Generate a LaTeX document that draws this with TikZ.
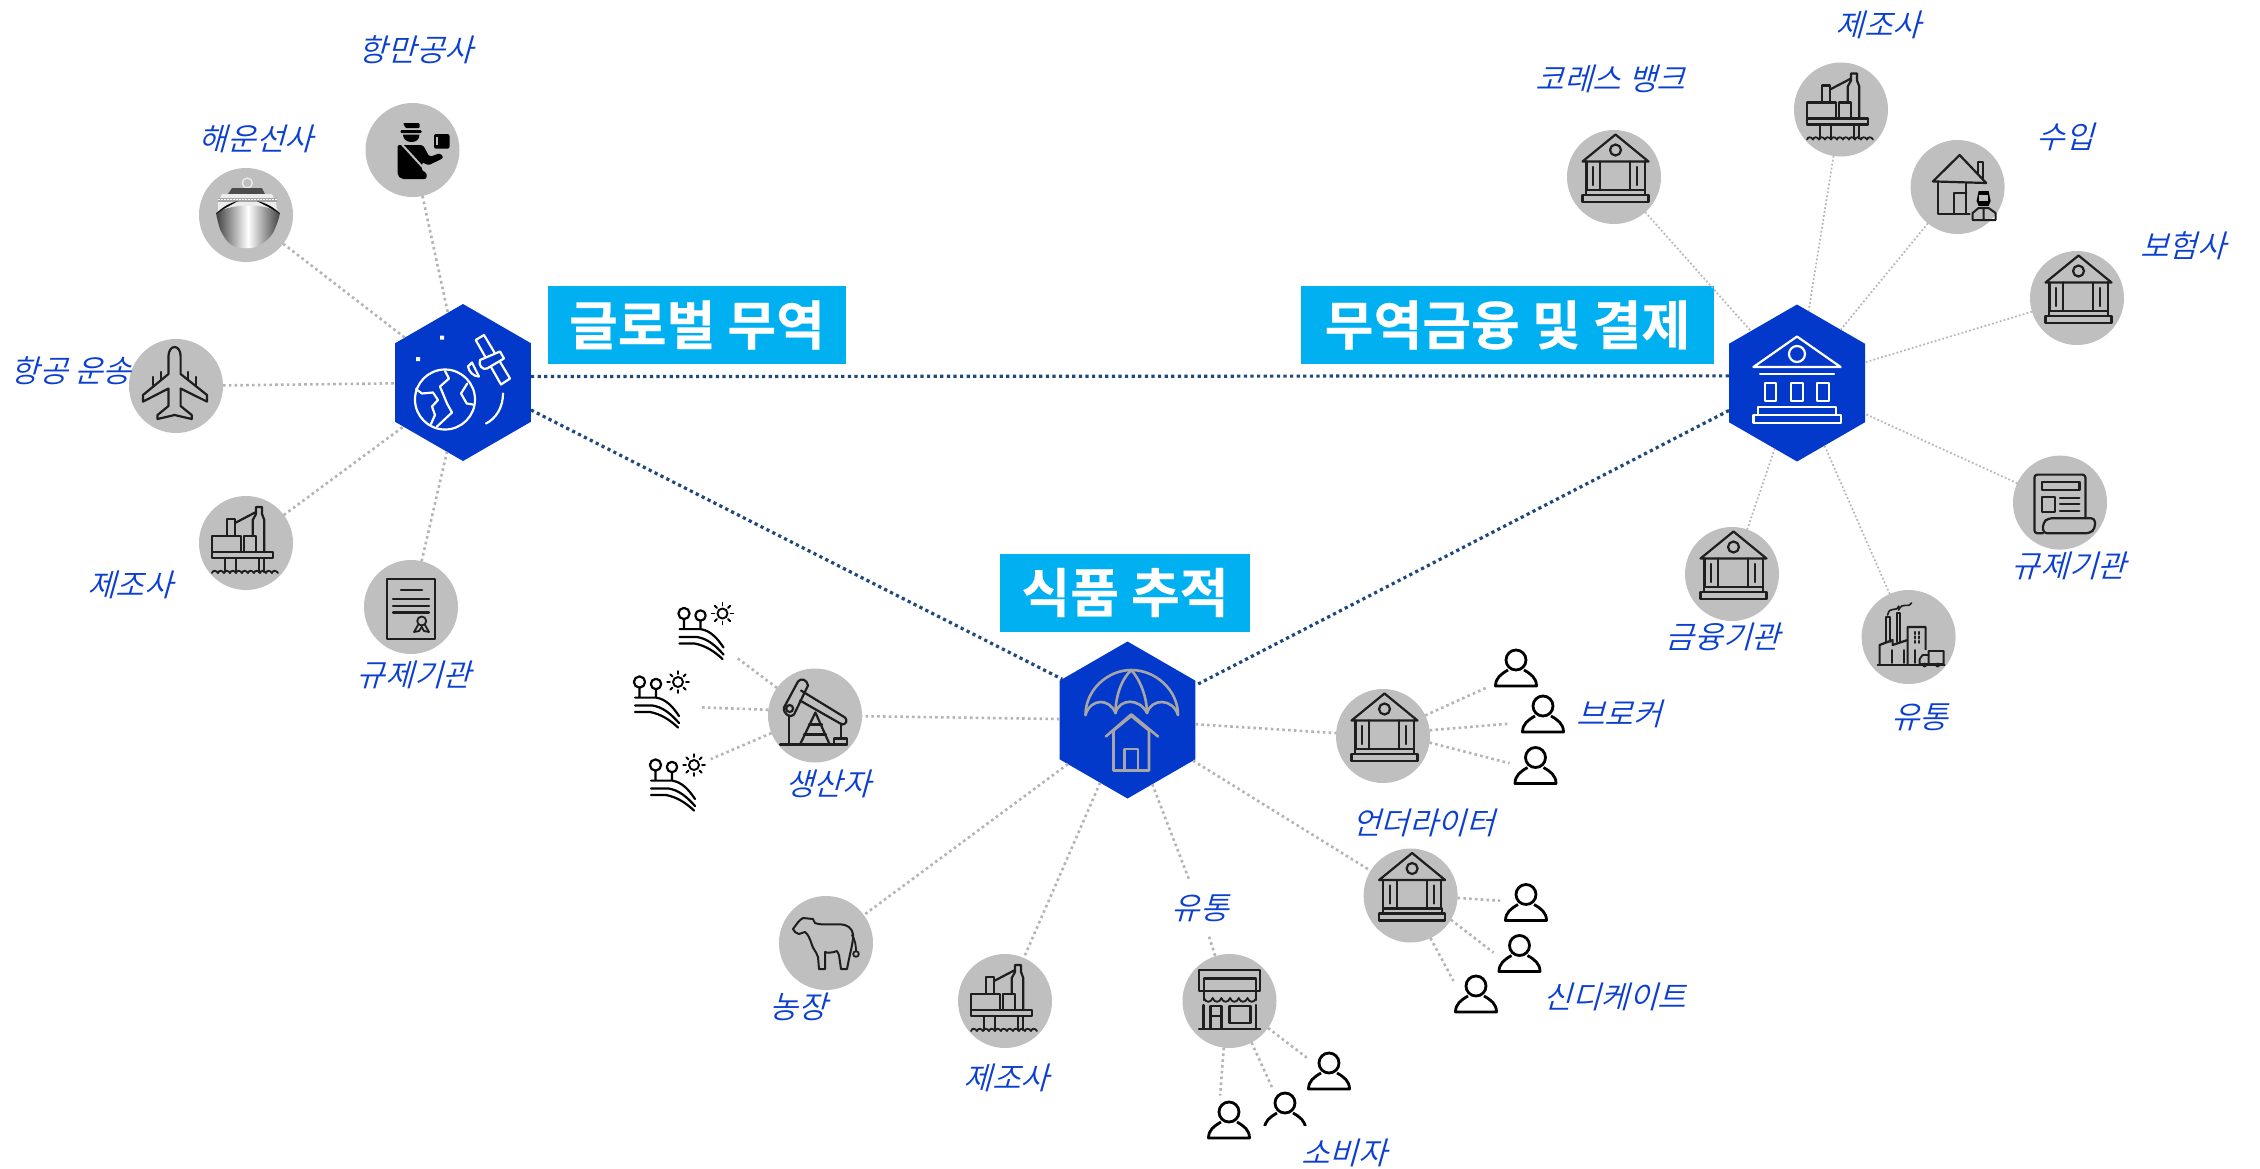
\documentclass[tikz,border=0pt]{standalone}
\usepackage{fontspec}
\usetikzlibrary{shapes.geometric}
\newfontfamily\lblfont[FakeSlant=0.28]{Noto Sans CJK KR DemiLight}
\newfontfamily\banfont[FakeBold=0.3]{Noto Sans CJK KR Bold}
\definecolor{hexblue}{HTML}{0339CA}
\definecolor{banblue}{HTML}{00B0F0}
\definecolor{disc}{HTML}{BFBFBF}
\definecolor{dotgray}{HTML}{B4B4B4}
\definecolor{navy}{HTML}{1F497D}
\definecolor{lblblue}{HTML}{0B3FD0}
\definecolor{icoline}{HTML}{1E1E1E}
\definecolor{hexgray}{HTML}{A6A6A6}
\tikzset{
  hexnode/.style={regular polygon,regular polygon sides=6,shape border rotate=30,minimum size=157pt,inner sep=0pt,outer sep=0pt,fill=hexblue},
  discnode/.style={circle,fill=disc,minimum size=94pt,inner sep=0pt,outer sep=0pt},
  personnode/.style={circle,minimum size=52pt,inner sep=0pt,outer sep=0pt},
  farmnode/.style={circle,minimum size=80pt,inner sep=0pt,outer sep=0pt},
  lbl/.style={font=\lblfont\fontsize{31}{36}\selectfont,text=lblblue,inner sep=0pt},
  ban/.style={fill=banblue,text=white,inner sep=0pt,font=\banfont\fontsize{53}{60}\selectfont},
  wideline/.style={draw=dotgray,line width=2.6pt,dash pattern=on 2.6pt off 3.2pt},
  thinline/.style={draw=dotgray,line width=1.7pt,dash pattern=on 1.7pt off 2.3pt},
  navyline/.style={draw=navy,line width=3.2pt,dash pattern=on 3.2pt off 3.4pt},
  ic/.style={draw=icoline,line width=2.2pt,line join=round,line cap=round},
  hw/.style={draw=white,line width=2.2pt,line join=round,line cap=round},
  hg/.style={draw=hexgray,line width=2.6pt,line join=round,line cap=round},
  bankicon/.pic={
    \draw[ic] (-31.5,-15.5) -- (1.5,-42.5) -- (34.5,-15.5) -- cycle;
    \draw[ic] (1.5,-27) circle[radius=5.5pt];
    \draw[ic] (-27.6,-15.5) -- (-27.6,13) (30.6,-15.5) -- (30.6,13) (-14,-15.5) -- (-14,13) (16,-15.5) -- (16,13) (-21,-10) -- (-21,8) (23,-10) -- (23,8);
    \draw[ic] (-28,13) rectangle (31,18);
    \draw[ic] (-31.5,18) rectangle (34.5,25);
  },
  rigicon/.pic={
    \draw[ic] (-34,-7) rectangle (-5,9);
    \draw[ic] (-34,9) rectangle (27,15);
    \draw[ic] (-19,-24) rectangle (-11,-7);
    \draw[ic] (-2,-7) rectangle (10,9);
    \draw[ic] (6.7,-7) -- (6.7,-23) -- (10,-29) -- (10,-36) -- (16,-36) -- (16,-29) -- (18.3,-23) -- (18.3,9);
    \draw[ic] (-11,-20) -- (10,-31);
    \draw[ic] (-21,15) -- (-21,29) (-10,15) -- (-10,29) (13,15) -- (13,29) (18,15) -- (18,29);
    \draw[ic,line width=1.8pt] (-34,30) \foreach \k in {0,...,10}{ .. controls (-33+6*\k,27) and (-30+6*\k,27) .. (-28+6*\k,30)};
  },
  planeicon/.pic={
    \draw[ic] (-1.4,-39) .. controls (2,-39) and (4.6,-35) .. (4.6,-30) -- (4.6,-12) -- (31,9) -- (31,15.6) -- (4.6,2.5) -- (4.6,20) -- (15.7,29) -- (15.7,33) -- (-1.4,29) -- (-18.5,33) -- (-18.5,29) -- (-7.5,20) -- (-7.5,2.5) -- (-33,15.6) -- (-33,9) -- (-7.5,-12) -- (-7.5,-30) .. controls (-7.5,-35) and (-4.8,-39) .. (-1.4,-39) -- cycle;
    \draw[ic] (-15,-14) -- (-15,-6) (-23,-9) -- (-23,-1) (12,-14) -- (12,-6) (20,-9) -- (20,-1);
  },
  shipicon/.pic={
    \draw[white!85!gray,line width=1.4pt] (1.3,-32) circle[radius=5pt];
    \fill[gray!60!black] (-18,-21) -- (-14,-27) -- (16,-27) -- (19,-21) -- cycle;
    \fill[gray!15] (-24,-21) -- (26,-21) -- (30,-13) -- (31,-4) -- (-28,-4) -- (-28,-13) -- cycle;
    \fill[gray!70] (-28,-17) rectangle (31,-13);
    \draw[white,line width=1pt,dash pattern=on 1.5pt off 1.5pt] (-28,-15.5) -- (31,-15.5);
    \shade[left color=black!75,right color=black!75,middle color=white] (-30,-2) .. controls (-28,8) and (-26,16) .. (-23,20) .. controls (-20,26) and (-16,29) .. (-12.6,31) .. controls (-6,34) and (7,34) .. (12,31) .. controls (18,28) and (23,24) .. (27,18) .. controls (30,12) and (33,4) .. (34,-2) .. controls (20,-12) and (-14,-12) .. (-30,-2) -- cycle;
    \fill[black] (-30,-1) .. controls (-24,-8) and (-16,-12) .. (-8,-14) .. controls (-15,-10) and (-23,-6) .. (-30,-1) -- cycle;
    \fill[black] (34,-1) .. controls (28,-8) and (20,-12) .. (11,-14) .. controls (18,-10) and (27,-6) .. (34,-1) -- cycle;
  },
  officericon/.pic={
    \fill[black,rounded corners=1pt] (-9.5,-27) -- (7,-27) -- (7,-22) -- (-7,-22) -- cycle;
    \fill[black,rounded corners=1pt] (-12,-20) rectangle (9,-17);
    \fill[black] (-9.5,-15.5) -- (7,-15.5) .. controls (7,-10) and (3,-8) .. (-1,-8) .. controls (-6,-8) and (-9.5,-11) .. (-9.5,-15.5) -- cycle;
    \fill[black,rounded corners=2pt] (-15,-5) -- (10.5,-5) -- (17,7) -- (28,3) -- (31,8) -- (15.5,15.5) -- (10,12) -- (9,21) -- (14,22) -- (14,29) -- (-11,29) -- (-15,25) -- cycle;
    \draw[disc,line width=2pt] (-11,-6) -- (10,17);
    \fill[black,rounded corners=2pt] (21.5,-16) rectangle (37,-1.3);
    \draw[disc,line width=1.4pt] (24.5,-13) -- (24.5,-5);
  },
  certicon/.pic={
    \draw[ic] (-24,-28) rectangle (24,32);
    \draw[ic] (-10,-17) -- (11,-17) (-18,-8) -- (18,-8) (-18,-1) -- (18,-1) (-18,5.5) -- (18,5.5);
    \draw[ic,line width=1.8pt] (10.7,14) circle[radius=4.5pt] (7,18) -- (3,25) -- (8,24) -- (10.7,20) -- (13,24) -- (18,25) -- (14,18);
  },
  houseicon/.pic={
    \draw[ic] (-24.7,-5.6) -- (2,-32) -- (28.6,-4) -- cycle;
    \draw[ic] (-20,-5.6) -- (-20,27) -- (12,27) (8.7,-4) -- (8.7,27) (-3.4,27) -- (-3.4,6) -- (8.7,6);
    \draw[ic] (20,-14) -- (20,-25) -- (25,-25) -- (25,-7);
    \fill[black] (19,14) -- (21,4) -- (31,4) -- (33,14) -- (31,19) -- (21,19) -- cycle;
    \fill[disc] (21.5,8) rectangle (30.5,14);
    \draw[ic,line width=2pt] (15,33) -- (15,26) -- (21,21) -- (31,21) -- (38,26) -- (38,33) -- cycle (26,21) -- (26,33);
  },
  newsicon/.pic={
    \draw[ic,rounded corners=3pt] (-17,30.7) -- (-25.6,30.7) -- (-25.6,-28) -- (25.4,-28) -- (25.4,15.6);
    \draw[ic] (-18.4,-21) rectangle (19.4,-13) (-18.4,-6) rectangle (-5,9.4);
    \draw[ic] (0,-4.7) -- (19.4,-4.7) (0,1.4) -- (19.4,1.4) (0,8) -- (19.4,8);
    \draw[ic,rounded corners=4pt] (-17,30.7) -- (30,30.7) -- (35,26) -- (35,15.6) -- (-12,15.6) -- (-17,20) -- cycle;
  },
  factoryicon/.pic={
    \draw[ic] (-31,28) -- (36,28);
    \draw[ic] (-29,28) -- (-29,8) -- (-16,3) -- (-16,8) -- (-1,3) -- (-1,28) (-1,3) -- (-1,-10) -- (17,-10) -- (17,13);
    \draw[ic,line width=1.8pt] (-23,5) -- (-23,-20) -- (-19,-20) -- (-19,5) (-12,5) -- (-12,-24) -- (-9,-24) -- (-9,5);
    \draw[ic,line width=1.6pt] (-21,-22) .. controls (-19,-32) and (-12,-24) .. (-10,-31) (-10,-27) .. controls (-6,-36) and (0,-28) .. (3,-34);
    \draw[ic,line width=1.8pt] (-17,13) -- (-17,26) (-5,13) -- (-5,26) (6.3,13) -- (6.3,26);
    \draw[ic,line width=2.2pt,dash pattern=on 2pt off 2.4pt] (6.5,-5) -- (6.5,7) (10.5,-5) -- (10.5,7);
    \fill[disc] (9,13) rectangle (36,27);
    \draw[ic,line width=1.8pt] (20,14) rectangle (35,27) (20,18) -- (14,18) -- (11,22) -- (11,27) -- (20,27);
    \fill[icoline] (16,28) circle[radius=2.4pt] (29,28) circle[radius=2.4pt];
  },
  pumpicon/.pic={
    \draw[ic] (-35,29) -- (32,29);
    \draw[ic] (-14,-25) -- (30,2) .. controls (33,5) and (31,9) .. (27,9) -- (-15,-15);
    \draw[ic] (-31,-8) -- (-17,-34) .. controls (-14,-38) and (-8,-36) .. (-7,-30) -- (-21,-1) .. controls (-24,3) and (-32,-1) .. (-31,-8) -- cycle;
    \draw[ic] (-25.4,-7) circle[radius=3.5pt];
    \draw[ic] (-26,0) -- (-26,29);
    \draw[ic] (-15,29) -- (0.4,-3) -- (14.7,29);
    \draw[ic] (-6,9) -- (7,9) (-11,19) -- (11,19);
    \draw[ic] (26,8) -- (26,23);
    \draw[ic] (19,23) rectangle (32,29);
  },
  cowicon/.pic={
    \draw[ic,line width=2pt] (-33,-14) .. controls (-30,-18) and (-27,-23) .. (-23,-25) -- (-13,-24) -- (-11,-20) .. controls (-4,-17) and (10,-20) .. (19,-18) .. controls (25,-16) and (28,-11) .. (27,-4) .. controls (26,4) and (24,10) .. (21,26) -- (15,26) -- (13,12) -- (11,8) .. controls (6,10) and (1,10) .. (-1,9) -- (-1,26) -- (-7,26) -- (-8,14) .. controls (-10,8) and (-13,6) .. (-14,2) .. controls (-16,-4) and (-18,-9) .. (-21,-11) -- (-27,-9) .. controls (-30,-10) and (-32,-11) .. (-33,-14) -- cycle;
    \draw[ic,line width=1.8pt] (26,-8) .. controls (29,-3) and (30,2) .. (30,8);
    \draw[ic,line width=1.8pt] (30,11) circle[radius=2.8pt];
  },
  storeicon/.pic={
    \draw[ic] (-30.4,-31) rectangle (30.8,-10);
    \draw[ic] (-25.5,-22.5) -- (26.8,-22.5) -- (26.8,-1) (-25.5,-22.5) -- (-25.5,-1);
    \draw[ic,line width=1.8pt] (-25.5,-3) \foreach \k in {0,...,5}{ .. controls (-24+8.7*\k,2) and (-18.5+8.7*\k,2) .. (-16.8+8.7*\k,-3)};
    \draw[ic] (-30.5,28) -- (30.8,28) (-26,4) -- (-26,28) (26.5,4) -- (26.5,28);
    \draw[ic] (-19,28) -- (-19,4.6) -- (-8,4.6) -- (-8,28) (-19,15) -- (-8,15);
    \draw[ic] (0,4.6) rectangle (21,22);
  },
  personicon/.pic={
    \draw[draw=black,line width=2.8pt] (0,-8) circle[radius=10pt];
    \draw[draw=black,line width=2.8pt,line join=round] (-8,2) .. controls (-15,6) and (-20.5,10) .. (-20.5,18) -- (20.5,18) .. controls (20.5,10) and (15,6) .. (8,2);
  },
  personcut/.pic={
    \begin{scope}
    \clip (-25,-22) rectangle (25,14.5);
    \draw[draw=black,line width=2.8pt] (0,-8) circle[radius=10pt];
    \draw[draw=black,line width=2.8pt,line join=round] (-8,2) .. controls (-15,6) and (-20.5,10) .. (-20.5,18) (20.5,18) .. controls (20.5,10) and (15,6) .. (8,2);
    \end{scope}
  },
  farmicon/.pic={
    \draw[ic,draw=black] (-22.5,-17) circle[radius=5.6pt] (-6,-15) circle[radius=5.2pt];
    \draw[ic,draw=black] (-22.5,-11.4) -- (-22.5,-1.4) (-6,-9.8) -- (-6,-1.4) (-27,-1.4) -- (-6,-1.4) .. controls (4,0) and (11,8) .. (17,17);
    \draw[ic,draw=black] (-27,6.4) -- (-10,6.4) .. controls (1,8) and (9,15) .. (17,24);
    \draw[ic,draw=black] (-27,13) -- (-12,13) .. controls (-1,15) and (8,21) .. (16,28.5);
    \draw[ic,draw=black,line width=1.9pt] (16,-17) circle[radius=5pt];
    \foreach \a in {0,45,...,315}{\draw[ic,draw=black,line width=1.9pt] (16,-17) ++(\a:8pt) -- ++(\a:2.8pt);}
  },
  globeicon/.pic={
    \draw[hw] (-18,17) circle[radius=30pt];
    \fill[white] (-23,-47) rectangle (-19,-43) (-47,-25.5) rectangle (-43,-21.5);
    \draw[hw] (-18,-11.5) -- (-14,-4) -- (-23,4) -- (-16,21) -- (-11,30) -- (-26,44);
    \draw[hw] (-47,6.5) -- (-41,11) -- (-30,10) -- (-25,17.5) -- (-31,24) -- (-28,32.5) -- (-32,41.5);
    \draw[hw] (4.3,1) -- (-2,11) -- (3.7,21) -- (10,22);
    \draw[hw] (12.7,-42.5) -- (21,-47.5) -- (47,-4) -- (38,2) -- cycle;
    \draw[hw,fill=hexblue] (17,-22.5) -- (37,-31) -- (41,-24) -- (24,-14) .. controls (20,-12) and (15,-17) .. (17,-22.5) -- cycle;
    \draw[hw,fill=hexblue] (16,-6) -- (9,-20) -- (5,-16) .. controls (6,-11) and (10,-6) .. (16,-6) -- cycle;
    \draw[hw] (40,11) .. controls (40,25) and (33,36) .. (23,41);
  },
  hbankicon/.pic={
    \draw[hw] (-43.6,-16) -- (0,-46.5) -- (43.6,-16) -- cycle;
    \draw[hw] (0,-29) circle[radius=8pt];
    \draw[hw] (-37,-9) -- (37,-9);
    \draw[hw] (-32,0) rectangle (-21,18) (-6,0) rectangle (6,18) (20,0) rectangle (32,18);
    \draw[hw] (-39,24) rectangle (39,32) (-43.6,32) rectangle (43.6,40);
  },
  umbrellaicon/.pic={
    \draw[hg] (-42,-5) .. controls (-42,-30) and (-20,-50) .. (3.8,-50) .. controls (28,-50) and (50.5,-30) .. (50.5,-5);
    \draw[hg] (-42,-5) .. controls (-37,-22) and (-18,-22) .. (-12,-7) .. controls (-8,-22) and (12,-22) .. (19.5,-7) .. controls (24,-22) and (45,-22) .. (50.5,-5);
    \draw[hg] (3.8,-50) .. controls (-7,-40) and (-12,-22) .. (-12,-7) (3.8,-50) .. controls (13,-40) and (19.5,-22) .. (19.5,-7);
    \draw[hg] (-21.7,16.5) -- (3.8,-5.7) -- (30.5,16.5);
    \draw[hg] (-14,10.5) -- (-14,50.5) -- (21.5,50.5) -- (21.5,10.5) (-14,10.5) -- (3.8,-4) -- (21.5,10.5);
    \draw[hg] (-3,50.5) -- (-3,29) -- (10.5,29) -- (10.5,50.5);
  },
}
\begin{document}
\begin{tikzpicture}[x=1pt,y=-1pt]
\useasboundingbox[fill=white] (0,0) rectangle (2260,1168);

% hexagons
\node[hexnode] (h1) at (463,382.5) {};
\node[hexnode] (h2) at (1797,383) {};
\node[hexnode] (h3) at (1127.5,720) {};

% banners
\node[ban,minimum width=298pt,minimum height=78pt] (ban1) at (697,325) {글로벌 무역};
\node[ban,minimum width=413pt,minimum height=78pt] (ban2) at (1507.5,325) {무역금융 및 결제};
\node[ban,minimum width=250pt,minimum height=78pt] (ban3) at (1125,592.5) {식품 추적};

% discs, left
\node[discnode] (port) at (412.5,150) {};
\node[discnode] (ship) at (246,215) {};
\node[discnode] (plane) at (176,386) {};
\node[discnode] (rigl) at (246,543) {};
\node[discnode] (cert) at (411,607) {};
% discs, right
\node[discnode] (korres) at (1614,177) {};
\node[discnode] (rigr) at (1841,109.5) {};
\node[discnode] (house) at (1957.6,187) {};
\node[discnode] (insur) at (2077,298) {};
\node[discnode] (news) at (2060,502.6) {};
\node[discnode] (finan) at (1732,574) {};
\node[discnode] (truck) at (1908.6,637) {};
% discs, bottom
\node[discnode] (pump) at (815,715.5) {};
\node[discnode] (cow) at (826,943) {};
\node[discnode] (rigb) at (1005,1001) {};
\node[discnode] (store) at (1229.5,1001) {};
\node[discnode] (broker) at (1383,736) {};
\node[discnode] (under) at (1410.6,895.5) {};

% persons and farms (empty anchors for the connectors)
\node[personnode] (p1) at (1516,668) {};
\node[personnode] (p2) at (1543,714) {};
\node[personnode] (p3) at (1535.5,765.5) {};
\node[personnode] (p4) at (1526,902.5) {};
\node[personnode] (p5) at (1519.5,953.5) {};
\node[personnode] (p6) at (1476,994) {};
\node[personnode] (p7) at (1329,1071) {};
\node[personnode] (p8) at (1285,1111) {};
\node[personnode] (p9) at (1229,1120) {};
\node[farmnode] (f1) at (706.5,630.5) {};
\node[farmnode] (f2) at (662,699) {};
\node[farmnode] (f3) at (678,782) {};

% labels
\node[lbl] (lport) at (416,50) {항만공사};
\node[lbl] (lship) at (256,138.5) {해운선사};
\node[lbl] (lplane) at (71,371) {항공 운송};
\node[lbl] (lrigl) at (130,585) {제조사};
\node[lbl] (lcert) at (414,675) {규제기관};
\node[lbl] (lkorres) at (1610.5,79) {코레스 뱅크};
\node[lbl] (lrigr) at (1878.5,24.6) {제조사};
\node[lbl] (lhouse) at (2065,137) {수입};
\node[lbl] (linsur) at (2183,246) {보험사};
\node[lbl] (lnews) at (2069,566) {규제기관};
\node[lbl] (lfinan) at (1723,637) {금융기관};
\node[lbl] (ltruck) at (1919.7,717) {유통};
\node[lbl] (lbroker) at (1619,713.6) {브로커};
\node[lbl] (lunder) at (1423.7,823) {언더라이터};
\node[lbl] (lsynd) at (1615,997) {신디케이트};
\node[lbl] (lcons) at (1344,1152.6) {소비자};
\node[lbl] (lpump) at (828,784) {생산자};
\node[lbl] (lcow) at (798,1007) {농장};
\node[lbl] (lrigb) at (1006.5,1077.5) {제조사};
\node[lbl,minimum height=57pt,minimum width=58pt] (lstore) at (1200,908) {유통};

% connectors
\draw[navyline] (h1.5.4) -- (h2.174.6);
\draw[navyline] (h1.-22.4) -- (h3.148.5);
\draw[navyline] (h2.202.8) -- (h3.27);

\foreach \n in {port,ship,plane,rigl,cert}{\draw[wideline] (\n) -- (h1);}
\foreach \n in {korres,rigr,house,insur,news,finan,truck}{\draw[thinline] (\n) -- (h2);}
\foreach \n in {pump,cow,rigb,broker,under}{\draw[wideline] (h3) -- (\n);}
\draw[wideline] (h3) -- (lstore);
\draw[wideline] (lstore) -- (store);

\draw[wideline,shorten >=8pt] (broker.26.4) -- (p1.217.9);
\draw[wideline,shorten >=8pt] (broker.7.4) -- (p2.200.8);
\draw[wideline] (broker.-8.2) -- (p3.175.6);
\draw[wideline] (under.-3) -- (p4.176);
\draw[wideline] (under.-31.8) -- (p5.178);
\draw[wideline] (under.-65) -- (p6.150.6);
\draw[wideline] (store.-35.8) -- (p7.149);
\draw[wideline] (store.-62.4) -- (p8.119);
\draw[wideline] (store.-97) -- (p9.110.5);
\draw[wideline] (pump.144) -- (f1.-42);
\draw[wideline] (pump.173.5) -- (f2.-12.5);
\draw[wideline] (pump.202) -- (f3.35);

% icons
\pic at (h1) {globeicon};
\pic at (h2) {hbankicon};
\pic at (h3) {umbrellaicon};
\pic at (port) {officericon};
\pic at (ship) {shipicon};
\pic at (plane) {planeicon};
\pic at (rigl) {rigicon};
\pic at (cert) {certicon};
\pic at (korres) {bankicon};
\pic at (rigr) {rigicon};
\pic at (house) {houseicon};
\pic at (insur) {bankicon};
\pic at (news) {newsicon};
\pic at (finan) {bankicon};
\pic at (truck) {factoryicon};
\pic at (pump) {pumpicon};
\pic at (cow) {cowicon};
\pic at (rigb) {rigicon};
\pic at (store) {storeicon};
\pic at (broker) {bankicon};
\pic at (under) {bankicon};
\pic at (p1) {personicon};
\pic at (p2) {personicon};
\pic at (p3) {personicon};
\pic at (p4) {personicon};
\pic at (p5) {personicon};
\pic at (p6) {personicon};
\pic at (p7) {personicon};
\pic at (p8) {personcut};
\pic at (p9) {personicon};
\pic at (f1) {farmicon};
\pic at (f2) {farmicon};
\pic at (f3) {farmicon};
\end{tikzpicture}
\end{document}
